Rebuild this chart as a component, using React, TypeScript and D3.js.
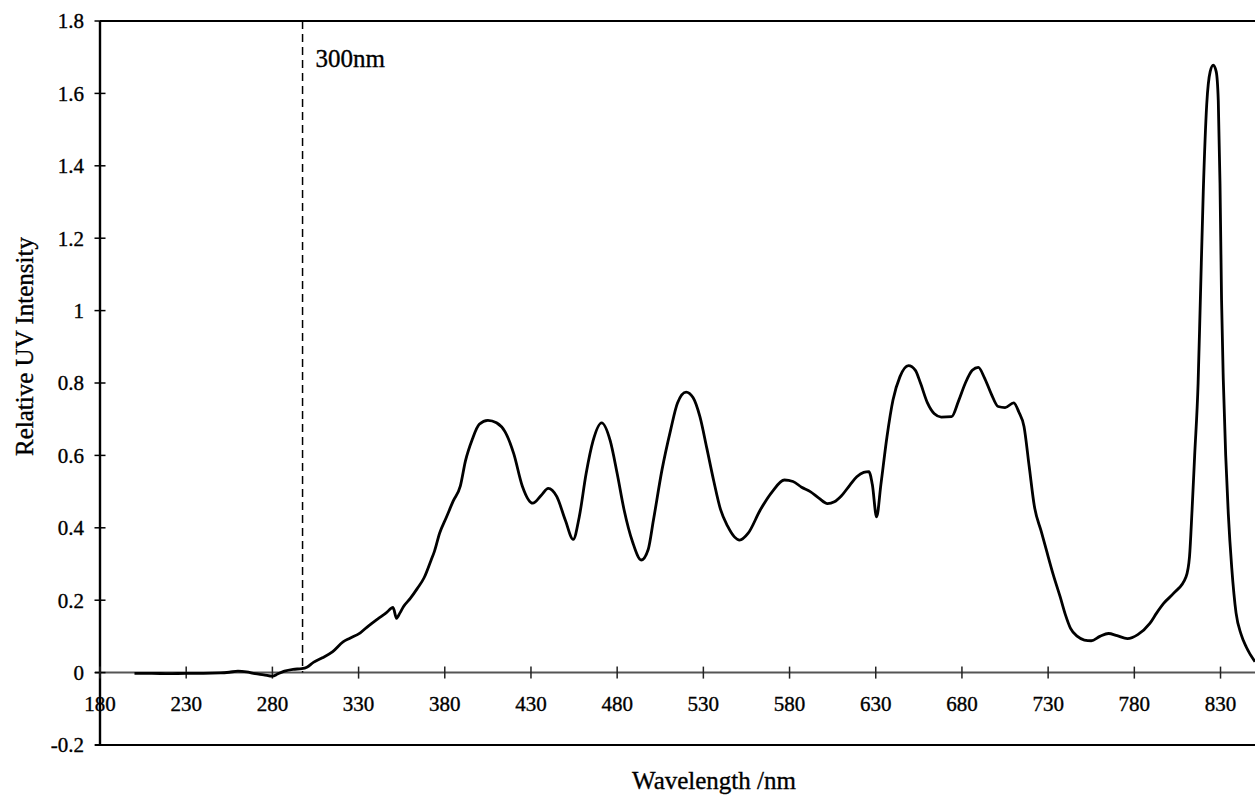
import React from "react";
import * as d3 from "d3";

// Spectrum (wavelength in nm, relative UV intensity)
const wavelengths: number[] = [
  200, 210, 220, 230, 240, 250, 255, 260, 265, 270, 275, 280, 283, 287, 292, 297, 300, 304, 309, 315,
  321, 325, 331, 336, 341, 346, 350, 352, 354, 356, 360, 364, 368, 372, 374, 377, 381, 385, 389, 392,
  396, 400, 405, 410, 415, 420, 425, 431, 436, 440, 445, 450, 454.5, 458, 462, 466, 471, 476, 480, 484,
  489, 494, 498, 501, 506, 511, 515, 520, 524, 528, 532, 536, 540, 544, 548, 551, 556, 563, 570, 577,
  582, 587, 592, 597, 602, 606, 610, 615, 619, 623, 626, 628, 630.5, 633, 636.5, 640, 644, 649, 653, 656,
  660, 664, 668, 674, 678, 682, 686, 689.5, 693, 697, 701, 705, 710, 713, 716, 719, 722, 726, 729, 733,
  737, 740, 743, 747, 751, 755, 760, 765, 770, 776, 782, 789, 793, 797, 803, 810, 812, 813.5, 815, 817,
  818.3, 820, 822, 824, 825.8, 827.5, 828.7, 829.7, 830.6, 831.6, 833, 834.5, 836.5, 839, 842, 845, 850,
];
const intensities: number[] = [
  -0.002, -0.002, -0.003, -0.002, -0.002, -0.001, 0.001, 0.004, 0.002, -0.003, -0.006, -0.01, -0.004, 0.004, 0.009, 0.011, 0.015, 0.029, 0.041, 0.058,
  0.085, 0.095, 0.11, 0.13, 0.148, 0.165, 0.18, 0.15, 0.165, 0.182, 0.205, 0.232, 0.262, 0.31, 0.335, 0.385, 0.43, 0.475, 0.515, 0.585,
  0.645, 0.686, 0.697, 0.69, 0.665, 0.605, 0.515, 0.468, 0.49, 0.509, 0.486, 0.42, 0.368, 0.43, 0.55, 0.64, 0.69, 0.64, 0.55, 0.45,
  0.36, 0.311, 0.34, 0.42, 0.56, 0.67, 0.745, 0.775, 0.76, 0.707, 0.62, 0.53, 0.45, 0.405, 0.375, 0.366, 0.385, 0.449, 0.5, 0.532,
  0.528, 0.512, 0.5, 0.482, 0.467, 0.472, 0.488, 0.518, 0.541, 0.553, 0.555, 0.52, 0.43, 0.52, 0.651, 0.753, 0.817, 0.848, 0.835, 0.799,
  0.745, 0.715, 0.706, 0.707, 0.75, 0.8, 0.835, 0.843, 0.815, 0.77, 0.735, 0.732, 0.745, 0.72, 0.68, 0.57, 0.46, 0.39, 0.338, 0.27,
  0.209, 0.16, 0.122, 0.1, 0.09, 0.088, 0.1, 0.108, 0.102, 0.094, 0.105, 0.136, 0.165, 0.191, 0.22, 0.265, 0.32, 0.45, 0.6, 0.8,
  1.03, 1.33, 1.57, 1.66, 1.678, 1.66, 1.58, 1.35, 1.03, 0.81, 0.6, 0.44, 0.29, 0.165, 0.105, 0.07, 0.03,
];

const xTickValues: number[] = [180, 230, 280, 330, 380, 430, 480, 530, 580, 630, 680, 730, 780, 830];
const yTickValues: number[] = [-0.2, 0, 0.2, 0.4, 0.6, 0.8, 1, 1.2, 1.4, 1.6, 1.8];
const markerWavelength = 297.5;
const markerLabel = "300nm";
const xTitle = "Wavelength /nm";
const yTitle = "Relative UV Intensity";

const W = 1255;
const H = 796;
const FONT = "'Liberation Serif', 'Times New Roman', serif";

export default function App() {
  const x = d3.scaleLinear().domain([180, 850]).range([100, 1255]);
  const y = d3.scaleLinear().domain([-0.2, 1.8]).range([745, 21]);

  const data = wavelengths.map((w, i) => ({ w, v: intensities[i] }));
  const line = d3
    .line<{ w: number; v: number }>()
    .x((d) => x(d.w))
    .y((d) => y(d.v))
    .curve(d3.curveMonotoneX);

  const left = x(180);
  const right = W + 5;
  const top = y(1.8);
  const bottom = y(-0.2);
  const zeroY = y(0);
  const textStroke = { stroke: "#000", strokeWidth: 0.35 };

  return (
    <svg
      width={W}
      height={H}
      style={{ position: "absolute", left: 0, top: 0, background: "#fff" }}
      fontFamily={FONT}
    >
      <rect x={0} y={0} width={W} height={H} fill="#fff" />
      {/* zero line */}
      <line x1={left - 5} x2={right} y1={zeroY} y2={zeroY} stroke="#555" strokeWidth={2} />
      {/* frame */}
      <line x1={left} x2={right} y1={top} y2={top} stroke="#000" strokeWidth={2.2} />
      <line x1={left - 5} x2={right} y1={bottom} y2={bottom} stroke="#000" strokeWidth={1.8} />
      <line x1={left} x2={left} y1={top} y2={bottom} stroke="#000" strokeWidth={2.4} />

      {/* y ticks */}
      {yTickValues.map((v) => (
        <g key={"y" + v}>
          <line x1={left - 5.5} x2={v === -0.2 || v === 1.8 ? left : left + 5.5} y1={y(v)} y2={y(v)} stroke="#000" strokeWidth={1.5} />
          <text x={84} y={y(v)} dy="0.35em" textAnchor="end" fontSize={21} fill="#000" {...textStroke}>
            {String(Math.round(v * 10) / 10)}
          </text>
        </g>
      ))}

      {/* x ticks */}
      {xTickValues.map((t) => (
        <g key={"x" + t}>
          <line x1={x(t)} x2={x(t)} y1={zeroY - 6} y2={zeroY + 6} stroke="#222" strokeWidth={1.5} />
          <text x={x(t)} y={711} textAnchor="middle" fontSize={21} fill="#000" {...textStroke}>
            {t}
          </text>
        </g>
      ))}

      {/* 300 nm marker */}
      <line
        x1={x(markerWavelength)}
        x2={x(markerWavelength)}
        y1={top}
        y2={zeroY}
        stroke="#000"
        strokeWidth={1.5}
        strokeDasharray="8,5"
      />
      <text x={x(markerWavelength) + 13} y={67} fontSize={25} fill="#000" {...textStroke}>
        {markerLabel}
      </text>

      {/* spectrum */}
      <path d={line(data) || ""} fill="none" stroke="#000" strokeWidth={2.8} strokeLinejoin="round" />

      {/* titles */}
      <text x={714} y={789} textAnchor="middle" fontSize={25} fill="#000" {...textStroke}>
        {xTitle}
      </text>
      <text transform="translate(33,346.5) rotate(-90)" textAnchor="middle" fontSize={25} fill="#000" {...textStroke}>
        {yTitle}
      </text>
    </svg>
  );
}
